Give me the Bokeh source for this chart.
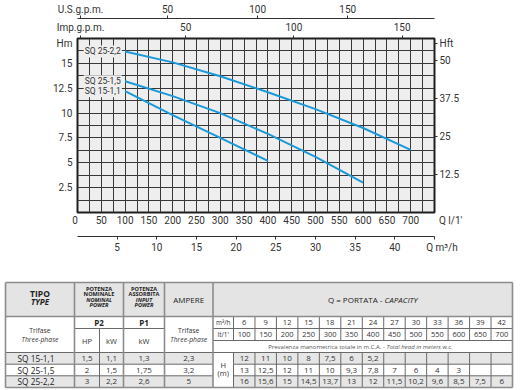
from bokeh.plotting import figure
from bokeh.models import (Range1d, LinearAxis, FixedTicker, Label, ColumnDataSource,
                          NumeralTickFormatter)
from bokeh.layouts import column
from bokeh.embed import file_html
from bokeh.resources import INLINE
from bokeh.core.properties import value

# ---------------- chart data (Q in l/min, H in m) ----------------
curve_names = ["SQ 25-2,2", "SQ 25-1,5", "SQ 15-1,1"]
q_sq25_22 = [100, 200, 300, 400, 500, 600, 700]
h_sq25_22 = [16.2, 15.1, 13.7, 12.1, 10.4, 8.5, 6.3]
q_sq25_15 = [100, 200, 300, 400, 500, 600]
h_sq25_15 = [13.2, 11.7, 10.0, 7.9, 5.6, 3.0]
q_sq15_11 = [100, 200, 300, 400]
h_sq15_11 = [12.2, 9.8, 7.5, 5.2]

lmin_ticks = [50, 100, 150, 200, 250, 300, 350, 400, 450, 500, 550, 600, 650, 700]
m3h_ticks = [5, 10, 15, 20, 25, 30, 35, 40]
impgpm_ticks = [50, 100, 150]
usgpm_ticks = [50, 100, 150]
hm_ticks = [2.5, 5, 7.5, 10, 12.5, 15]
hft_ticks = [12.5, 25, 37.5, 50]

# axis names (drawn as end labels of the axes)
NB = "\u00a0"
name_zero = "0" + NB * 2
name_lmin = NB * 13 + "Q l/1'"
name_m3h = NB * 6 + "Q m\u00b3/h"
name_imp = "Imp.g.p.m."
name_us = "U.S.g.p.m."
name_hm = "Hm"
name_hft = "Hft"

# ---------------- table data ----------------
tab_models = ["SQ 15-1,1", "SQ 25-1,5", "SQ 25-2,2"]
tab_p2_hp = ["1,5", "2", "3"]
tab_p2_kw = ["1,1", "1,5", "2,2"]
tab_p1_kw = ["1,3", "1,75", "2,6"]
tab_ampere = ["2,3", "3,2", "5"]
tab_q_m3h = ["6", "9", "12", "15", "18", "21", "24", "27", "30", "33", "36", "39", "42"]
tab_q_lmin = ["100", "150", "200", "250", "300", "350", "400", "450", "500", "550", "600", "650", "700"]
tab_h_sq15_11 = ["12", "11", "10", "8", "7,5", "6", "5,2"]
tab_h_sq25_15 = ["13", "12,5", "12", "11", "10", "9,3", "7,8", "7", "6", "4", "3"]
tab_h_sq25_22 = ["16", "15,6", "15", "14,5", "13,7", "13", "12", "11,5", "10,2", "9,6", "8,5", "7,5", "6"]

FONT = "Roboto"
TFONT = "Open Sans"
TXT = "#333333"
BLUE = "#1b98d8"

Q_MAX = 750.0
H_MAX = 17.5
M3H_MAX = Q_MAX * 60 / 1000
IMP_MAX = Q_MAX / 4.54609
US_MAX = Q_MAX / 3.785411784
FT_MAX = H_MAX / 0.3048
H_NAME = 17.0            # height where the Hm / Hft names sit

W = 525
CH = 262                 # chart canvas height
TH = 127                 # table canvas height
FRAME_W = 357.0

# ---------------- chart ----------------
p = figure(width=W, height=CH,
           x_range=Range1d(0, Q_MAX), y_range=Range1d(0, H_MAX),
           output_backend="svg", toolbar_location=None,
           min_border_left=77, min_border_right=91, min_border_top=37, min_border_bottom=CH - 212,
           background_fill_color="#eeeeee", border_fill_color="white")
p.outline_line_color = "#1e1e1e"
p.outline_line_width = 2

p.extra_x_ranges = {"m3h": Range1d(0, M3H_MAX), "imp": Range1d(0, IMP_MAX),
                    "us": Range1d(0, US_MAX)}
p.extra_y_ranges = {"ft": Range1d(0, FT_MAX)}

def style_axis(ax, size="10px"):
    ax.major_label_text_font = FONT
    ax.major_label_text_font_size = size
    ax.major_label_text_color = TXT
    ax.minor_tick_line_color = None

# grid
p.xgrid.ticker = FixedTicker(ticks=[25 * i for i in range(1, 30)])
p.ygrid.ticker = FixedTicker(ticks=[1.25 * i for i in range(1, 14)])
for g in (p.xgrid[0], p.ygrid[0]):
    g.grid_line_color = "#383838"
    g.grid_line_alpha = 1.0
    g.grid_line_width = 1

# l/min axis (below, no line)
xa = p.xaxis[0]
xa.ticker = FixedTicker(ticks=[0] + lmin_ticks + [Q_MAX])
xa.major_label_overrides = {0: name_zero, Q_MAX: name_lmin}
xa.axis_line_color = None
xa.major_tick_line_color = None
xa.major_tick_out = 0
xa.major_tick_in = 0
xa.major_label_standoff = 2
xa.axis_label = " "
xa.axis_label_text_font_size = "4px"
xa.axis_label_standoff = 0
style_axis(xa)

# m3/h axis
m3 = LinearAxis(x_range_name="m3h", ticker=FixedTicker(ticks=m3h_ticks + [M3H_MAX]))
m3.major_label_overrides = {M3H_MAX: name_m3h}
m3.axis_line_color = TXT
m3.axis_line_width = 1
m3.major_tick_line_color = TXT
m3.major_tick_out = 3
m3.major_tick_in = 0
m3.major_label_standoff = 2
style_axis(m3)
p.add_layout(m3, "below")

# Hm axis (left)
ya = p.yaxis[0]
ya.ticker = FixedTicker(ticks=hm_ticks + [H_NAME])
ya.formatter = NumeralTickFormatter(format="0.[0]")
ya.major_label_overrides = {H_NAME: name_hm}
ya.axis_line_color = None
ya.major_tick_line_color = None
ya.major_tick_out = 0
ya.major_tick_in = 0
ya.major_label_standoff = 5
style_axis(ya)

# Hft axis (right)
ft = LinearAxis(y_range_name="ft", ticker=FixedTicker(ticks=hft_ticks + [H_NAME / 0.3048]),
                formatter=NumeralTickFormatter(format="0.[0]"))
ft.major_label_overrides = {H_NAME / 0.3048: name_hft}
ft.axis_line_color = None
ft.major_tick_line_color = TXT
ft.major_tick_out = 3
ft.major_tick_in = 0
ft.major_label_standoff = 2
style_axis(ft)
p.add_layout(ft, "right")

# name ticks placed 3 px inside the frame's left edge
imp_name_at = 3.0 / FRAME_W * IMP_MAX
us_name_at = 3.0 / FRAME_W * US_MAX

# Imp gpm (above, nearest frame)
imp = LinearAxis(x_range_name="imp", ticker=FixedTicker(ticks=[imp_name_at] + impgpm_ticks))
imp.major_label_overrides = {imp_name_at: name_imp}
imp.axis_line_color = None
imp.major_tick_line_color = TXT
imp.major_tick_out = 3
imp.major_tick_in = 0
imp.major_label_standoff = 3
style_axis(imp)
p.add_layout(imp, "above")

# US gpm (above, outer)
us = LinearAxis(x_range_name="us", ticker=FixedTicker(ticks=[us_name_at] + usgpm_ticks))
us.major_label_overrides = {us_name_at: name_us}
us.axis_line_color = TXT
us.axis_line_width = 1
us.major_tick_line_color = TXT
us.major_tick_out = 3
us.major_tick_in = 0
us.major_label_standoff = 1
style_axis(us)
p.add_layout(us, "above")

# curves
curves = [(q_sq25_22, h_sq25_22), (q_sq25_15, h_sq25_15), (q_sq15_11, h_sq15_11)]
for (qs, hs), name in zip(curves, curve_names):
    p.line(qs, hs, line_color=BLUE, line_width=2)
    p.add_layout(Label(x=53, y=hs[0], text=name, text_align="center", text_baseline="middle",
                       text_font=FONT, text_font_size="8.5px", text_color=TXT,
                       background_fill_color="#eeeeee", padding=1))

# ---------------- table (data coords = page pixels) ----------------
t = figure(width=W, height=TH, x_range=Range1d(0, W), y_range=Range1d(CH + TH, CH),
           output_backend="svg", toolbar_location=None, min_border=0,
           x_axis_location=None, y_axis_location=None,
           background_fill_color="white", border_fill_color="white")
t.outline_line_color = None
t.xgrid.visible = False
t.ygrid.visible = False

X0, X_TIPO, X_HP, X_KW, X_P1, X_Q, X_LBL, X1 = 5, 74, 99, 123, 164, 212.5, 233, 512
Y0, Y_HDR, Y_A, Y_B, Y_C = 282, 316, 328, 340, 352
Y_R = [352, 363.7, 375.3, 387]
ncol = len(tab_q_m3h)
cw = (X1 - X_LBL) / ncol
qx = [X_LBL + cw * (i + 0.5) for i in range(ncol)]

# fills
t.quad(left=[X0], right=[X1], top=[Y0], bottom=[Y_HDR], fill_color="#e4e4e4", line_color=None)
for r in (0, 2):
    t.quad(left=[X0, X_LBL], right=[X_Q, X1], top=[Y_R[r]] * 2, bottom=[Y_R[r + 1]] * 2,
           fill_color="#e6e6e6", line_color=None)

THIN, THICK = "#6a6a6a", "#8c8c8c"
thin = []
thin += [((X_TIPO, X_P1), (Y_A, Y_A)), ((X_Q, X1), (Y_A, Y_A)), ((X_Q, X1), (Y_B, Y_B)),
         ((X0, X1), (Y_C, Y_C))]
for r in (1, 2):
    thin += [((X0, X_Q), (Y_R[r], Y_R[r])), ((X_LBL, X1), (Y_R[r], Y_R[r]))]
thin += [((X_HP, X_HP), (Y_A, Y_R[3]))]
for i in range(ncol):
    xx = X_LBL + cw * i
    thin += [((xx, xx), (Y_HDR, Y_B)), ((xx, xx), (Y_C, Y_R[3]))]
t.multi_line(xs=[list(s[0]) for s in thin], ys=[list(s[1]) for s in thin],
             line_color=THIN, line_width=1)
thick = [((X0, X1), (Y0, Y0)), ((X0, X1), (Y_HDR, Y_HDR)), ((X0, X1), (Y_R[3], Y_R[3])),
         ((X0, X0), (Y0, Y_R[3])), ((X1, X1), (Y0, Y_R[3]))]
for xx in (X_TIPO, X_KW, X_P1, X_Q):
    thick += [((xx, xx), (Y0, Y_R[3]))]
t.multi_line(xs=[list(s[0]) for s in thick], ys=[list(s[1]) for s in thick],
             line_color=THICK, line_width=1.6)

def put(xs, ys, texts, size="8px", style="normal", align="center", color=TXT):
    src = ColumnDataSource(dict(x=list(xs), y=list(ys), text=list(texts)))
    t.text(x="x", y="y", text="text", source=src, text_font=value(TFONT),
           text_font_size=size, text_font_style=style, text_align=align,
           text_baseline="middle", text_color=color)

cx_tipo = (X0 + X_TIPO) / 2
cx_p2 = (X_TIPO + X_KW) / 2
cx_hp = (X_TIPO + X_HP) / 2
cx_kw = (X_HP + X_KW) / 2
cx_p1 = (X_KW + X_P1) / 2
cx_amp = (X_P1 + X_Q) / 2
cx_lbl = (X_Q + X_LBL) / 2

# header
put([cx_tipo], [293], ["TIPO"], size="8.5px", style="bold", color="#222")
put([cx_tipo], [301], ["TYPE"], size="8px", style="bold italic", color="#222")
put([cx_p2, cx_p2], [288, 293.5], ["POTENZA", "NOMINALE"], size="5.6px", style="bold", color="#222")
put([cx_p2, cx_p2], [299, 304.5], ["NOMINAL", "POWER"], size="5.6px", style="bold italic", color="#222")
put([cx_p1, cx_p1], [288, 293.5], ["POTENZA", "ASSORBITA"], size="5.6px", style="bold", color="#222")
put([cx_p1, cx_p1], [299, 304.5], ["INPUT", "POWER"], size="5.6px", style="bold italic", color="#222")
put([cx_amp], [299], ["AMPERE"], size="8px", color="#222")
put([384], [299], ["Q = PORTATA - "], size="8px", align="right", color="#222")
put([384], [299], ["CAPACITY"], size="8px", style="italic", align="left", color="#222")

# sub-header
put([cx_tipo, cx_amp], [330, 330], ["Trifase", "Trifase"], size="6.8px")
put([cx_tipo, cx_amp], [338.5, 338.5], ["Three-phase", "Three-phase"], size="6.8px", style="italic")
put([cx_p2, cx_p1], [322, 322], ["P2", "P1"], size="8px", style="bold", color="#222")
put([cx_hp, cx_kw, cx_p1], [340, 340, 340], ["HP", "kW", "kW"], size="7.5px")
put([cx_lbl], [322], ["m\u00b3/h"], size="6.5px")
put([cx_lbl], [334], ["lt/1'"], size="6.5px")
put(qx, [322] * ncol, tab_q_m3h, size="7.5px")
put(qx, [334] * ncol, tab_q_lmin, size="7.5px")
put([386], [346], ["Prevalenza manometrica totale in m.C.A. - "], size="6px", align="right", color="#555")
put([386], [346], ["Total head in meters w.c."], size="6px", style="italic", align="left", color="#555")

# data rows
ry = [(Y_R[i] + Y_R[i + 1]) / 2 for i in range(3)]
put([17] * 3, ry, tab_models, size="8.3px", align="left", color="#222")
put([cx_hp] * 3, ry, tab_p2_hp)
put([cx_kw] * 3, ry, tab_p2_kw)
put([cx_p1] * 3, ry, tab_p1_kw)
put([cx_amp] * 3, ry, tab_ampere)
put([cx_lbl], [364.5], ["H"], size="7.5px")
put([cx_lbl], [372.5], ["(m)"], size="7.5px")
for r, row in enumerate([tab_h_sq15_11, tab_h_sq25_15, tab_h_sq25_22]):
    put(qx[:len(row)], [ry[r]] * len(row), row)

layout = column(column(p), column(t), spacing=0)
open("out.html", "w").write(file_html(layout, INLINE))
